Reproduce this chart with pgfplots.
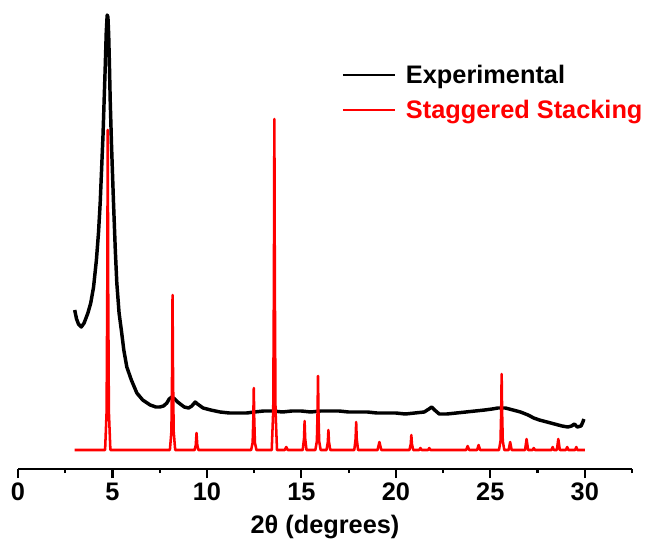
\documentclass[border=0pt]{standalone}
\usepackage{pgfplots}
\pgfplotsset{compat=1.18}
\usepackage{fontspec}
\setmainfont{Liberation Sans}
\usetikzlibrary{calc}
\begin{document}
\begin{tikzpicture}
\begin{axis}[
  scale only axis=true,
  width=460.5pt, height=351.75pt,
  xmin=0, xmax=32.5, ymin=-4, ymax=465,
  axis x line*=bottom,
  axis y line=none,
  x axis line style={-, line width=2.2pt},
  xtick={0,5,...,30},
  minor xtick={2.5,7.5,...,32.5},
  tick align=outside,
  major tick length=6.75pt,
  minor tick length=3pt,
  every tick/.style={black, line width=1.6pt},
  ticklabel style={font=\fontsize{19}{22}\selectfont\bfseries},
  /pgf/number format/assume math mode=true,
  xlabel={2θ (degrees)},
  xlabel style={font=\fontsize{19}{22}\selectfont\bfseries, yshift=-4pt},
  clip=false,
  legend style={at={(axis description cs:0.527,0.868)}, anchor=north west, draw=none, fill=none, inner sep=0pt, row sep=7pt, font=\fontsize{19}{22}\selectfont\bfseries},
  legend cell align=left,
  legend image code/.code={\draw[#1, line width=1.6pt] (0pt,0pt) -- (39pt,0pt); \path (44pt,0pt);},
]
\addplot[black, line width=2.6pt, line join=round] coordinates {
(3.0,155) (3.1,146) (3.2,141) (3.35,138) (3.5,142) (3.7,152) (3.85,162) (4.0,178)
(4.15,205) (4.26,232) (4.35,262) (4.43,298) (4.5,330) (4.56,365) (4.62,400) (4.67,432)
(4.72,450) (4.76,448) (4.8,430) (4.84,400) (4.88,365) (4.95,320) (5.05,265) (5.15,215)
(5.23,182) (5.35,152) (5.49,132) (5.6,115) (5.76,98) (6.0,85) (6.29,72) (6.6,65)
(7.0,60) (7.3,58) (7.5,58) (7.7,59) (7.88,62) (8.0,66) (8.14,68) (8.3,66) (8.45,63)
(8.59,61) (8.8,58) (9.03,57) (9.2,59) (9.38,63) (9.5,61) (9.8,57) (10.2,55) (10.7,53)
(11.2,52) (11.7,52) (12.1,52) (12.5,53) (13,54) (13.5,54) (14,53) (14.5,54) (15,54)
(15.5,53) (16,54) (16.5,54) (17,54) (17.5,53) (18,53) (18.5,53) (19,52) (19.5,52)
(20,52) (20.5,51) (21,52) (21.5,53) (21.75,56) (21.9,58) (22.05,55) (22.3,51) (22.7,51)
(23.2,52) (23.7,53) (24.2,54) (24.7,55) (25.1,56) (25.4,57) (25.8,57) (26.2,55)
(26.6,53) (27.0,50) (27.3,47) (27.6,45) (28.0,43) (28.4,41) (28.8,39) (29.1,38)
(29.3,39) (29.45,41) (29.6,38) (29.8,39) (29.9,43) (29.95,46)
};
\addlegendentry{Experimental}
\addplot[red, line width=1.9pt, line join=round] coordinates {
(3.0,15)
(4.61,15) (4.69,53.4) (4.725,175) (4.75,335) (4.775,175) (4.81,53.4) (4.89,15)
(8.04,15) (8.12,33.6) (8.155,92.5) (8.18,170) (8.205,92.5) (8.24,33.6) (8.32,15)
(9.35,15) (9.41,20) (9.45,32) (9.49,20) (9.55,15)
(12.34,15) (12.42,22.4) (12.455,46) (12.48,77) (12.505,46) (12.54,22.4) (12.62,15)
(13.43,15) (13.51,54.7) (13.545,180.5) (13.57,346) (13.595,180.5) (13.63,54.7) (13.71,15)
(14.12,15) (14.2,18) (14.28,15)
(15.07,15) (15.14,26.6) (15.17,44) (15.20,26.6) (15.27,15)
(15.74,15) (15.82,23.9) (15.855,52) (15.88,89) (15.905,52) (15.94,23.9) (16.02,15)
(16.33,15) (16.40,23) (16.43,35) (16.46,23) (16.53,15)
(17.8,15) (17.87,26.2) (17.9,43) (17.93,26.2) (18.0,15)
(19.03,15) (19.13,23) (19.23,15)
(20.72,15) (20.79,21) (20.82,30) (20.85,21) (20.92,15)
(21.24,15) (21.3,17) (21.36,15)
(21.71,15) (21.77,17) (21.83,15)
(23.72,15) (23.8,19) (23.88,15)
(24.30,15) (24.38,20) (24.46,15)
(25.46,15) (25.54,24.1) (25.575,53) (25.6,91) (25.625,53) (25.66,24.1) (25.74,15)
(25.97,15) (26.05,23) (26.13,15)
(26.84,15) (26.92,26) (27.0,15)
(27.24,15) (27.3,17) (27.36,15)
(28.24,15) (28.3,18) (28.36,15)
(28.52,15) (28.6,26) (28.68,15)
(29.0,15) (29.07,18) (29.14,15)
(29.49,15) (29.55,18) (29.61,15)
(30.0,15)
};
\addlegendentry{\textcolor{red}{Staggered Stacking}}
\end{axis}
\pgfresetboundingbox
\path[use as bounding box] ($(current axis.south west)+(-13.5pt,-56.25pt)$) rectangle ($(current axis.north east)+(9.75pt,0pt)$);
\end{tikzpicture}
\end{document}
